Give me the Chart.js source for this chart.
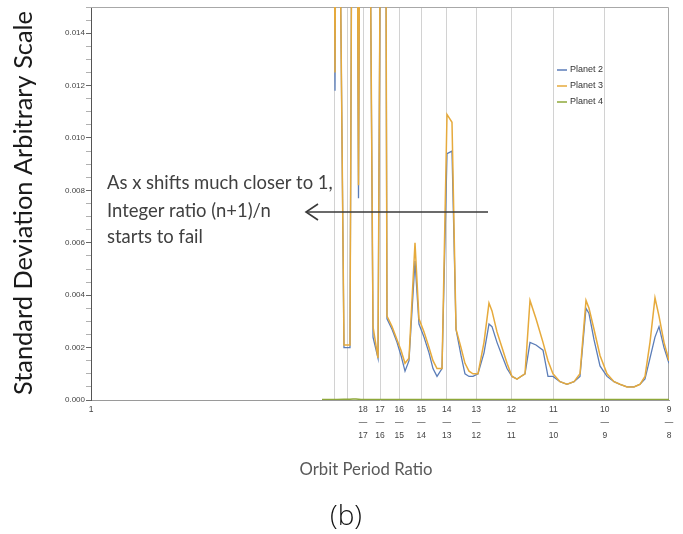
<!DOCTYPE html>
<html>
<head>
<meta charset="utf-8">
<script src="https://cdn.jsdelivr.net/npm/chart.js@4.4.1/dist/chart.umd.min.js"></script>
<style>
  html, body { margin: 0; padding: 0; background: #ffffff; }
  #wrap { width: 683px; height: 534px; position: relative; }
</style>
</head>
<body>
<div id="wrap"><canvas id="c" width="683" height="534"></canvas></div>
<script>
// ---- Data ----
const orbitRatio = [
  1.04996, 1.05234, 1.05277, 1.05320, 1.05471, 1.05601, 1.05666, 1.05731, 1.05785, 1.05839,
  1.05990, 1.06099, 1.06207, 1.06293, 1.06358, 1.06401, 1.06510, 1.06618, 1.06704, 1.06791,
  1.06877, 1.07007, 1.07093, 1.07202, 1.07310, 1.07396, 1.07483, 1.07591, 1.07699, 1.07807,
  1.07894, 1.08002, 1.08088, 1.08175, 1.08261, 1.08369, 1.08499, 1.08607, 1.08672, 1.08780,
  1.08888, 1.08997, 1.09105, 1.09213, 1.09299, 1.09386, 1.09494, 1.09624, 1.09775, 1.09883,
  1.09991, 1.10143, 1.10294, 1.10446, 1.10575, 1.10705, 1.10770, 1.10878, 1.11008, 1.11159,
  1.11311, 1.11440, 1.11592, 1.11743, 1.11873, 1.11981, 1.12089, 1.12197, 1.12284, 1.12392,
  1.12500
];
const planet2 = [
  null, 0.030, 0.0118, 0.030, 0.0020, 0.0020, 0.030, 0.030, 0.0077, 0.030,
  0.030, 0.0024, 0.0016, 0.030, 0.030, 0.0031, 0.0027, 0.0022, 0.0017, 0.0011,
  0.0015, 0.0053, 0.0029, 0.0024, 0.0018, 0.0012, 0.0009, 0.0012, 0.0094, 0.0095,
  0.0027, 0.0017, 0.0010, 0.0009, 0.0009, 0.0010, 0.0018, 0.0029, 0.0028, 0.0022,
  0.0017, 0.0012, 0.0009, 0.0008, 0.0009, 0.0010, 0.0022, 0.0021, 0.0019, 0.0009,
  0.0009, 0.0007, 0.0006, 0.0007, 0.0009, 0.0035, 0.0033, 0.0023, 0.0013, 0.0009,
  0.0007, 0.0006, 0.0005, 0.0005, 0.0006, 0.0008, 0.0016, 0.0024, 0.0028, 0.0020,
  0.0014
];
const planet3 = [
  null, 0.030, 0.0125, 0.030, 0.0021, 0.0021, 0.030, 0.030, 0.0082, 0.030,
  0.030, 0.0028, 0.0016, 0.030, 0.030, 0.0032, 0.0028, 0.0023, 0.0019, 0.0014,
  0.0016, 0.0060, 0.0031, 0.0026, 0.0020, 0.0015, 0.0012, 0.0012, 0.0109, 0.0106,
  0.0027, 0.0020, 0.0014, 0.0011, 0.0010, 0.0010, 0.0022, 0.0037, 0.0034, 0.0026,
  0.0020, 0.0014, 0.0009, 0.0008, 0.0009, 0.0010, 0.0038, 0.0031, 0.0022, 0.0015,
  0.0010, 0.0007, 0.0006, 0.0007, 0.0010, 0.0038, 0.0035, 0.0027, 0.0017, 0.0010,
  0.0007, 0.0006, 0.0005, 0.0005, 0.0006, 0.0009, 0.0022, 0.0039, 0.0032, 0.0022,
  0.0015
];
const planet4 = [
  0.00002, 0.00002, 0.00002, 0.00002, 0.00003, 0.00003, 0.00004, 0.00004, 0.00003, 0.00002,
  0.00002, 0.00002, 0.00002, 0.00002, 0.00002, 0.00002, 0.00002, 0.00002, 0.00002, 0.00002,
  0.00002, 0.00002, 0.00002, 0.00002, 0.00002, 0.00002, 0.00002, 0.00002, 0.00002, 0.00002,
  0.00002, 0.00002, 0.00002, 0.00002, 0.00002, 0.00002, 0.00002, 0.00002, 0.00002, 0.00002,
  0.00002, 0.00002, 0.00002, 0.00002, 0.00002, 0.00002, 0.00002, 0.00002, 0.00002, 0.00002,
  0.00002, 0.00002, 0.00002, 0.00002, 0.00002, 0.00002, 0.00002, 0.00002, 0.00002, 0.00002,
  0.00002, 0.00002, 0.00002, 0.00002, 0.00002, 0.00002, 0.00002, 0.00002, 0.00002, 0.00002,
  0.00002
];
const xTickValues = [1, 20/19, 19/18, 18/17, 17/16, 16/15, 15/14, 14/13, 13/12, 12/11, 11/10, 10/9, 9/8];
const xTickLabels = ['1', '', '', '18/17', '17/16', '16/15', '15/14', '14/13', '13/12', '12/11', '11/10', '10/9', '9/8'];
const seriesNames = ['Planet 2', 'Planet 3', 'Planet 4'];
const yAxisTitle = 'Standard Deviation Arbitrary Scale';
const xAxisTitle = 'Orbit Period Ratio';
const panelLabel = '(b)';
const noteLines = ['As x shifts much closer to 1,', 'Integer ratio (n+1)/n', 'starts to fail'];

// ---- Styles ----
const colors = ['#5b7db8', '#e6aa3c', '#8ea83a'];

function pts(vals) { return orbitRatio.map((x, i) => ({ x: x, y: vals[i] })); }

function fitFont(ctx, text, targetW, family, weight) {
  let size = 20;
  ctx.font = (weight || '') + ' ' + size + 'px ' + family;
  const w = ctx.measureText(text).width;
  size = size * targetW / w;
  return size;
}

const extras = {
  id: 'extras',
  beforeDatasetsDraw(chart) {
    const { ctx, chartArea: a } = chart;
    ctx.save();
    ctx.strokeStyle = '#a8a8a8';
    ctx.lineWidth = 1;
    ctx.beginPath();
    ctx.moveTo(a.left, a.top + 0.5);
    ctx.lineTo(a.right - 0.5, a.top + 0.5);
    ctx.lineTo(a.right - 0.5, a.bottom);
    ctx.stroke();
    ctx.restore();
  },
  afterDraw(chart) {
    const { ctx } = chart;
    ctx.save();
    // Y axis title
    const fam = 'Lato, "Open Sans", sans-serif';
    let s = fitFont(ctx, yAxisTitle, 384, fam);
    ctx.font = s + 'px ' + fam;
    ctx.fillStyle = '#1a1a1a';
    ctx.textAlign = 'center';
    ctx.textBaseline = 'middle';
    ctx.translate(24, 203);
    ctx.rotate(-Math.PI / 2);
    ctx.fillText(yAxisTitle, 0, 0);
    ctx.setTransform(1, 0, 0, 1, 0, 0);
    // X axis title
    s = fitFont(ctx, xAxisTitle, 133, fam);
    ctx.font = s + 'px ' + fam;
    ctx.fillStyle = '#595959';
    ctx.fillText(xAxisTitle, 366, 470);
    // panel label
    const fam2 = '"Open Sans", "Noto Sans", sans-serif';
    s = fitFont(ctx, panelLabel, 32, fam2, '300');
    ctx.font = '300 ' + s + 'px ' + fam2;
    ctx.fillStyle = '#111';
    ctx.fillText(panelLabel, 346, 517);
    // annotation
    s = fitFont(ctx, noteLines[0], 226, fam);
    ctx.font = s + 'px ' + fam;
    ctx.fillStyle = '#404040';
    ctx.textAlign = 'left';
    const ys = [183, 211, 237];
    noteLines.forEach((t, i) => ctx.fillText(t, 107, ys[i]));
    // arrow
    ctx.strokeStyle = '#3a3a3a';
    ctx.lineWidth = 1.6;
    ctx.beginPath();
    ctx.moveTo(488, 212);
    ctx.lineTo(306, 212);
    ctx.stroke();
    ctx.beginPath();
    ctx.moveTo(318, 204);
    ctx.lineTo(306, 212);
    ctx.lineTo(318, 220);
    ctx.stroke();
    // legend
    ctx.font = '9px "Liberation Sans", Arial, sans-serif';
    ctx.textBaseline = 'middle';
    const ly = [70, 86, 102];
    seriesNames.forEach((n, i) => {
      ctx.strokeStyle = colors[i];
      ctx.lineWidth = 1.5;
      ctx.beginPath();
      ctx.moveTo(557, ly[i]);
      ctx.lineTo(567, ly[i]);
      ctx.stroke();
      ctx.fillStyle = '#333';
      ctx.fillText(n, 570, ly[i]);
    });
    ctx.restore();
  }
};

const isMajorY = v => Math.abs(v / 0.002 - Math.round(v / 0.002)) < 1e-6 && v <= 0.0141;

new Chart(document.getElementById('c'), {
  type: 'line',
  data: {
    datasets: [
      { label: seriesNames[0], data: pts(planet2), borderColor: colors[0], borderWidth: 1.3, order: 3 },
      { label: seriesNames[1], data: pts(planet3), borderColor: colors[1], borderWidth: 1.5, order: 2 },
      { label: seriesNames[2], data: pts(planet4), borderColor: colors[2], borderWidth: 1.5, order: 1 }
    ]
  },
  options: {
    responsive: false,
    animation: false,
    elements: { point: { radius: 0 }, line: { tension: 0 } },
    spanGaps: false,
    layout: { padding: { left: 0, top: 7, right: 14, bottom: 0 } },
    plugins: { legend: { display: false }, tooltip: { enabled: false } },
    scales: {
      x: {
        type: 'linear',
        min: 1,
        max: 1.125,
        afterFit(scale) { scale.height = 134; },
        afterBuildTicks(scale) { scale.ticks = xTickValues.map(v => ({ value: v })); },
        border: { display: true, color: '#9a9a9a', width: 1 },
        grid: {
          drawTicks: false,
          color: ctx => (ctx.tick && (ctx.tick.value === 1 || ctx.tick.value === 1.125)) ? 'rgba(0,0,0,0)' : '#d2d2d2',
          lineWidth: 1
        },
        ticks: {
          autoSkip: false,
          maxRotation: 0,
          minRotation: 0,
          padding: 3,
          color: '#444',
          font: { family: '"Liberation Sans", Arial, sans-serif', size: 8.5, lineHeight: 1.55 },
          callback: (v, i) => {
            const t = xTickLabels[i];
            if (!t) return '';
            if (t.indexOf('/') < 0) return t;
            const p = t.split('/');
            return [p[0], '—', p[1]];
          }
        }
      },
      y: {
        min: 0,
        max: 0.015,
        afterFit(scale) { scale.width = 91; },
        border: { display: true, color: '#555', width: 1 },
        grid: {
          drawOnChartArea: false,
          drawTicks: true,
          tickLength: 5,
          tickColor: ctx => isMajorY(ctx.tick.value) ? '#666' : '#b0b0b0'
        },
        ticks: {
          stepSize: 0.0005,
          autoSkip: false,
          padding: 1,
          color: '#444',
          font: { family: '"Liberation Sans", Arial, sans-serif', size: 8 },
          callback: v => isMajorY(v) ? v.toFixed(3) : ''
        }
      }
    }
  },
  plugins: [extras]
});
</script>
</body>
</html>
